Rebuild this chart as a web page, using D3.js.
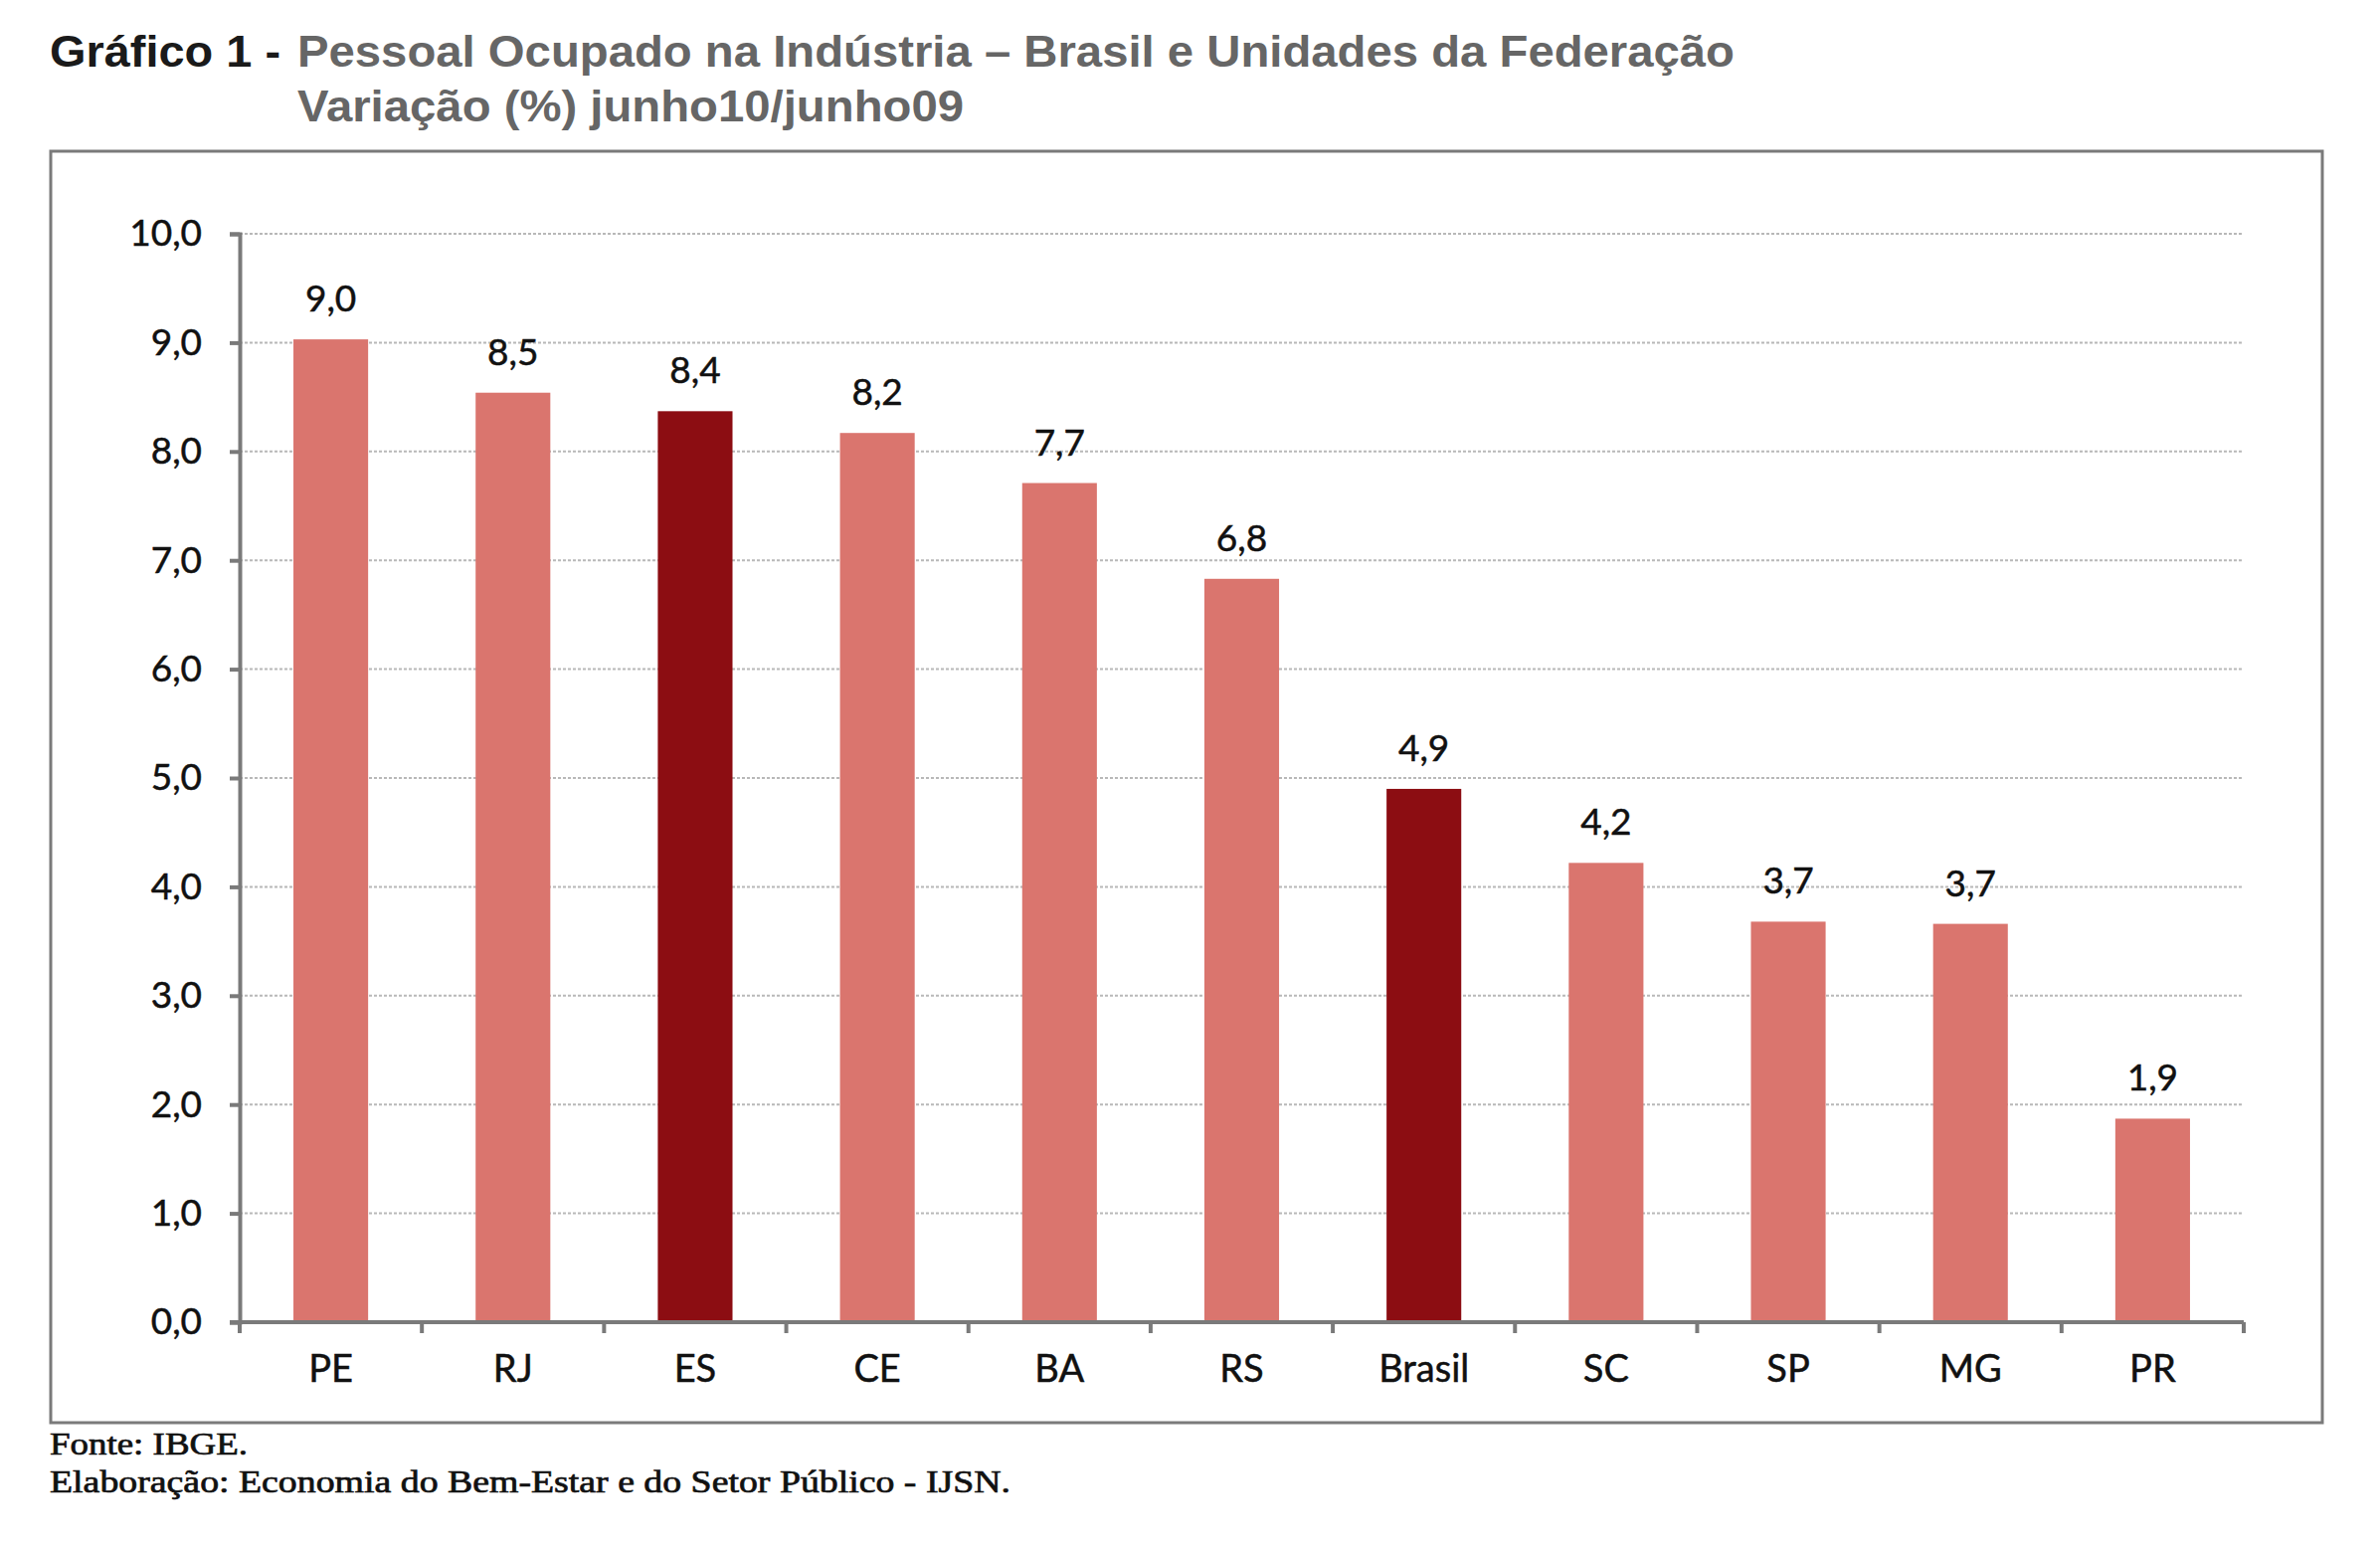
<!DOCTYPE html>
<html>
<head>
<meta charset="utf-8">
<script src="https://cdn.jsdelivr.net/npm/d3@7"></script>
<style>
  html, body { margin: 0; padding: 0; background: #ffffff; }
  svg { display: block; }
</style>
</head>
<body>
<script>
// ---- Data ----
const categories = ["PE", "RJ", "ES", "CE", "BA", "RS", "Brasil", "SC", "SP", "MG", "PR"];
const values = [9.03, 8.54, 8.37, 8.17, 7.71, 6.83, 4.90, 4.22, 3.68, 3.66, 1.87];
const highlighted = ["ES", "Brasil"];
const yTicks = [0, 1, 2, 3, 4, 5, 6, 7, 8, 9, 10];
const titleBold = "Gráfico 1 - ";
const titleLine1 = "Pessoal Ocupado na Indústria – Brasil e Unidades da Federação";
const titleLine2 = "Variação (%) junho10/junho09";
const footnotes = ["Fonte: IBGE.", "Elaboração: Economia do Bem-Estar e do Setor Público - IJSN."];

const W = 2393, H = 1561;
const svg = d3.select("body").append("svg").attr("width", W).attr("height", H);
svg.append("rect").attr("width", W).attr("height", H).attr("fill", "#fff");

// Title
const tFont = "'Liberation Sans', Arial, sans-serif";
svg.append("text").attr("x", 50).attr("y", 67)
  .attr("font-family", tFont).attr("font-weight", "bold").attr("font-size", 45)
  .attr("fill", "#1a1a1a").attr("textLength", 232).attr("lengthAdjust", "spacingAndGlyphs")
  .text(titleBold.trim());
svg.append("text").attr("x", 299).attr("y", 67)
  .attr("font-family", tFont).attr("font-weight", "bold").attr("font-size", 45)
  .attr("fill", "#666").attr("textLength", 1445).attr("lengthAdjust", "spacingAndGlyphs")
  .text(titleLine1);
svg.append("text").attr("x", 299).attr("y", 122)
  .attr("font-family", tFont).attr("font-weight", "bold").attr("font-size", 45)
  .attr("fill", "#666").attr("textLength", 670).attr("lengthAdjust", "spacingAndGlyphs")
  .text(titleLine2);

// Frame
svg.append("rect").attr("x", 51).attr("y", 152).attr("width", 2284).attr("height", 1278)
  .attr("fill", "none").attr("stroke", "#7a7a7a").attr("stroke-width", 3);

// Scales
const plot = { left: 241, right: 2256, top: 235, bottom: 1329 };
const x = d3.scaleBand().domain(categories).range([plot.left, plot.right]).paddingInner(0.59).paddingOuter(0.295);
const y = d3.scaleLinear().domain([0, 10]).range([plot.bottom, plot.top]);

// Grid
svg.append("g").selectAll("line").data(yTicks.filter(d => d > 0)).join("line")
  .attr("x1", plot.left).attr("x2", plot.right)
  .attr("y1", d => y(d)).attr("y2", d => y(d))
  .attr("stroke", "#b8b8b8").attr("stroke-width", 2).attr("stroke-dasharray", "3,2");

// Bars
svg.append("g").selectAll("rect").data(categories).join("rect")
  .attr("x", d => x(d)).attr("width", x.bandwidth())
  .attr("y", (d, i) => y(values[i])).attr("height", (d, i) => y(0) - y(values[i]))
  .attr("fill", d => highlighted.includes(d) ? "#8c0d12" : "#da756e");

// Value labels
const lFont = "Lato, 'Open Sans', sans-serif";
const fmt = v => d3.format(".1f")(v).replace(".", ",");
svg.append("g").selectAll("text").data(categories).join("text")
  .attr("x", d => x(d) + x.bandwidth() / 2)
  .attr("y", (d, i) => y(values[i]) - 28)
  .attr("text-anchor", "middle")
  .attr("font-family", lFont).attr("font-size", 37).attr("fill", "#111")
  .attr("stroke", "#111").attr("stroke-width", 0.5)
  .text((d, i) => fmt(values[i]));

// Y axis
const yAxis = d3.axisLeft(y).tickValues(yTicks).tickFormat(fmt).tickSize(10).tickPadding(28);
const gy = svg.append("g").attr("transform", `translate(${plot.left},0)`).call(yAxis);
gy.select(".domain").attr("stroke", "#7a7a7a").attr("stroke-width", 4);
gy.selectAll(".tick line").attr("stroke", "#7a7a7a").attr("stroke-width", 4);
gy.selectAll(".tick text").attr("font-family", lFont)
  .attr("font-size", 37).attr("fill", "#111").attr("stroke", "#111").attr("stroke-width", 0.5);

// X axis
const boundaries = d3.range(categories.length + 1).map(i => plot.left + i * x.step());
const gx = svg.append("g");
gx.append("line").attr("x1", plot.left - 10).attr("x2", plot.right)
  .attr("y1", y(0)).attr("y2", y(0)).attr("stroke", "#7a7a7a").attr("stroke-width", 4);
gx.selectAll(".bt").data(boundaries).join("line").attr("class", "bt")
  .attr("x1", d => d).attr("x2", d => d).attr("y1", y(0)).attr("y2", y(0) + 11)
  .attr("stroke", "#7a7a7a").attr("stroke-width", 4);
gx.selectAll("text").data(categories).join("text")
  .attr("x", d => x(d) + x.bandwidth() / 2).attr("y", y(0) + 60)
  .attr("text-anchor", "middle")
  .attr("font-family", lFont).attr("font-size", 38).attr("fill", "#111")
  .attr("stroke", "#111").attr("stroke-width", 0.5)
  .text(d => d);

// Footnotes
const footLen = [199, 966];
svg.append("g").selectAll("text").data(footnotes).join("text")
  .attr("x", 50).attr("y", (d, i) => 1462 + i * 38)
  .attr("font-family", "'Liberation Serif', 'Times New Roman', serif")
  .attr("font-size", 32).attr("fill", "#111")
  .attr("stroke", "#111").attr("stroke-width", 0.7)
  .attr("textLength", (d, i) => footLen[i]).attr("lengthAdjust", "spacingAndGlyphs")
  .text(d => d);
</script>
</body>
</html>
